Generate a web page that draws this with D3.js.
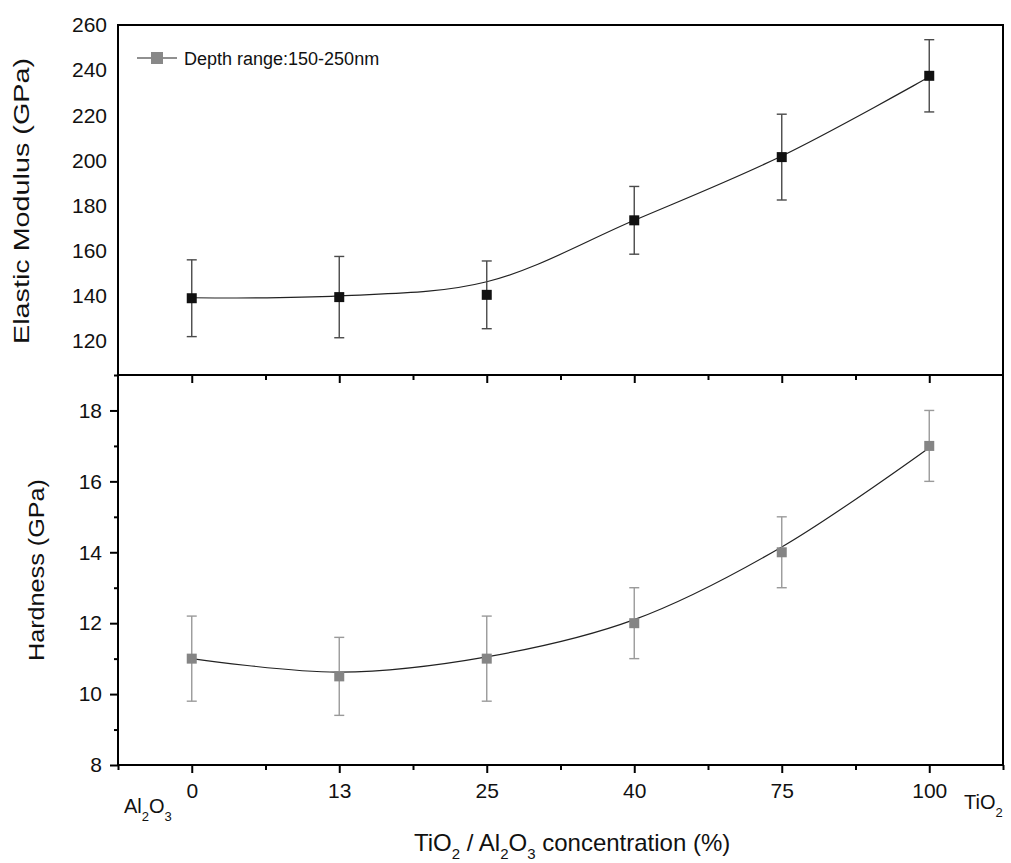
<!DOCTYPE html>
<html><head><meta charset="utf-8">
<script src="https://cdn.jsdelivr.net/npm/d3@7"></script>
<style>
html,body{margin:0;padding:0;background:#fff;}
svg{display:block;font-family:"Liberation Sans",Arial,sans-serif;}
</style></head>
<body>
<svg id="chart" width="1011" height="863"></svg>
<script>
// ---- data ----
const categories = ["0", "13", "25", "40", "75", "100"];
const modulus     = [139, 139.5, 140.5, 173.5, 201.5, 237.5];
const modulusErr  = [17, 18, 15, 15, 19, 16];
const modulusFit  = [139.2, 140.0, 146.3, 173.5, 202, 237];
const hardness    = [11, 10.5, 11, 12, 14, 17];
const hardnessErr = [1.2, 1.1, 1.2, 1, 1, 1];
const hardnessFit = [11.0, 10.62, 11.05, 12.1, 14.15, 16.95];
const modulusTicks  = [120, 140, 160, 180, 200, 220, 240, 260];
const hardnessTicks = [8, 10, 12, 14, 16, 18];
const hardnessMinor = [9, 11, 13, 15, 17, 19];
const legendLabel = "Depth range:150-250nm";

// ---- layout ----
const svg = d3.select("#chart");
const L = 118, R = 1003, T = 25, MID = 375, B = 765;
const idx = categories.map((d, i) => i);
const minorIdx = d3.range(-0.5, 6, 1);

const x = d3.scaleLinear().domain([-0.5, 5.5]).range([L, R]);
const yTop = d3.scaleLinear().domain([105, 260]).range([MID, T]);
const yBot = d3.scaleLinear().domain([8, 19]).range([B, MID]);

function styleAxis(g, fs) {
  g.select(".domain").remove();
  g.selectAll(".tick line").attr("stroke", "#000").attr("stroke-width", 2);
  g.selectAll(".tick text").attr("fill", "#111").style("font-size", fs + "px")
    .style("font-family", '"Liberation Sans",Arial,sans-serif');
}

// top panel y labels (no tick marks)
svg.append("g").attr("transform", `translate(${L},0)`)
  .call(d3.axisLeft(yTop).tickValues(modulusTicks).tickSize(0).tickPadding(11))
  .call(g => styleAxis(g, 21));

// bottom panel y axis
svg.append("g").attr("transform", `translate(${L},0)`)
  .call(d3.axisLeft(yBot).tickValues(hardnessTicks).tickSize(8).tickPadding(8))
  .call(g => styleAxis(g, 21));
svg.append("g").attr("transform", `translate(${L},0)`)
  .call(d3.axisLeft(yBot).tickValues(hardnessMinor).tickSize(4).tickFormat(""))
  .call(g => styleAxis(g, 21));

// bottom x axis
svg.append("g").attr("transform", `translate(0,${B})`)
  .call(d3.axisBottom(x).tickValues(idx).tickSize(8).tickPadding(10).tickFormat(i => categories[i]))
  .call(g => styleAxis(g, 21));
svg.append("g").attr("transform", `translate(0,${B})`)
  .call(d3.axisBottom(x).tickValues(minorIdx).tickSize(5).tickFormat(""))
  .call(g => styleAxis(g, 21));

// top panel x ticks (at separator, pointing down)
svg.append("g").attr("transform", `translate(0,${MID})`)
  .call(d3.axisBottom(x).tickValues(idx).tickSize(8).tickFormat(""))
  .call(g => styleAxis(g, 21));
svg.append("g").attr("transform", `translate(0,${MID})`)
  .call(d3.axisBottom(x).tickValues(minorIdx.slice(1, -1)).tickSize(5).tickFormat(""))
  .call(g => styleAxis(g, 21));

// frames
svg.append("rect").attr("x", L).attr("y", T).attr("width", R - L).attr("height", B - T)
  .attr("fill", "none").attr("stroke", "#000").attr("stroke-width", 2);
svg.append("line").attr("x1", L).attr("x2", R).attr("y1", MID).attr("y2", MID)
  .attr("stroke", "#000").attr("stroke-width", 2);

// ---- top panel series ----
const lineTop = d3.line().x((d, i) => x(i)).y(d => yTop(d)).curve(d3.curveCatmullRom.alpha(0.5));
svg.append("path").datum(modulusFit).attr("d", lineTop)
  .attr("fill", "none").attr("stroke", "#222").attr("stroke-width", 1.2);

const eTop = svg.append("g").attr("stroke", "#4a4a4a").attr("stroke-width", 1.4);
modulus.forEach((v, i) => {
  const cx = x(i), y1 = yTop(v + modulusErr[i]), y2 = yTop(v - modulusErr[i]);
  eTop.append("line").attr("x1", cx).attr("x2", cx).attr("y1", y1).attr("y2", y2);
  eTop.append("line").attr("x1", cx - 5).attr("x2", cx + 5).attr("y1", y1).attr("y2", y1);
  eTop.append("line").attr("x1", cx - 5).attr("x2", cx + 5).attr("y1", y2).attr("y2", y2);
});
svg.append("g").selectAll("rect").data(modulus).join("rect")
  .attr("x", (d, i) => x(i) - 5).attr("y", d => yTop(d) - 5)
  .attr("width", 10).attr("height", 10).attr("fill", "#111");

// ---- bottom panel series ----
const lineBot = d3.line().x((d, i) => x(i)).y(d => yBot(d)).curve(d3.curveCatmullRom.alpha(0.5));
svg.append("path").datum(hardnessFit).attr("d", lineBot)
  .attr("fill", "none").attr("stroke", "#222").attr("stroke-width", 1.2);

const eBot = svg.append("g").attr("stroke", "#9a9a9a").attr("stroke-width", 1.4);
hardness.forEach((v, i) => {
  const cx = x(i), y1 = yBot(v + hardnessErr[i]), y2 = yBot(v - hardnessErr[i]);
  eBot.append("line").attr("x1", cx).attr("x2", cx).attr("y1", y1).attr("y2", y2);
  eBot.append("line").attr("x1", cx - 5).attr("x2", cx + 5).attr("y1", y1).attr("y2", y1);
  eBot.append("line").attr("x1", cx - 5).attr("x2", cx + 5).attr("y1", y2).attr("y2", y2);
});
svg.append("g").selectAll("rect").data(hardness).join("rect")
  .attr("x", (d, i) => x(i) - 5).attr("y", d => yBot(d) - 5)
  .attr("width", 10).attr("height", 10).attr("fill", "#858585");

// ---- legend ----
svg.append("line").attr("x1", 137).attr("x2", 177).attr("y1", 58).attr("y2", 58)
  .attr("stroke", "#222").attr("stroke-width", 1.2);
svg.append("rect").attr("x", 151).attr("y", 52).attr("width", 12).attr("height", 12).attr("fill", "#888");
svg.append("text").attr("x", 184).attr("y", 64.5).style("font-size", "18px").attr("fill", "#111")
  .text(legendLabel);

// ---- axis titles ----
svg.append("text").attr("transform", "translate(29,201) rotate(-90)")
  .attr("text-anchor", "middle").style("font-size", "22px").attr("fill", "#111")
  .attr("textLength", 286).attr("lengthAdjust", "spacingAndGlyphs")
  .text("Elastic Modulus (GPa)");
svg.append("text").attr("transform", "translate(44,570) rotate(-90)")
  .attr("text-anchor", "middle").style("font-size", "22px").attr("fill", "#111")
  .attr("textLength", 182).attr("lengthAdjust", "spacingAndGlyphs")
  .text("Hardness (GPa)");

// x title with subscripts
const xt = svg.append("text").attr("x", 414).attr("y", 851).style("font-size", "24px").attr("fill", "#111");
xt.append("tspan").text("TiO");
xt.append("tspan").attr("dy", 8).style("font-size", "15px").text("2");
xt.append("tspan").attr("dy", -8).text(" / Al");
xt.append("tspan").attr("dy", 8).style("font-size", "15px").text("2");
xt.append("tspan").attr("dy", -8).text("O");
xt.append("tspan").attr("dy", 8).style("font-size", "15px").text("3");
xt.append("tspan").attr("dy", -8).text(" concentration (%)");

// end labels
const al = svg.append("text").attr("x", 124).attr("y", 813).style("font-size", "20px").attr("fill", "#111");
al.append("tspan").text("Al");
al.append("tspan").attr("dy", 8).style("font-size", "13px").text("2");
al.append("tspan").attr("dy", -8).text("O");
al.append("tspan").attr("dy", 8).style("font-size", "13px").text("3");

const ti = svg.append("text").attr("x", 964).attr("y", 809).style("font-size", "20px").attr("fill", "#111");
ti.append("tspan").text("TiO");
ti.append("tspan").attr("dy", 8).style("font-size", "13px").text("2");
</script>
</body></html>
